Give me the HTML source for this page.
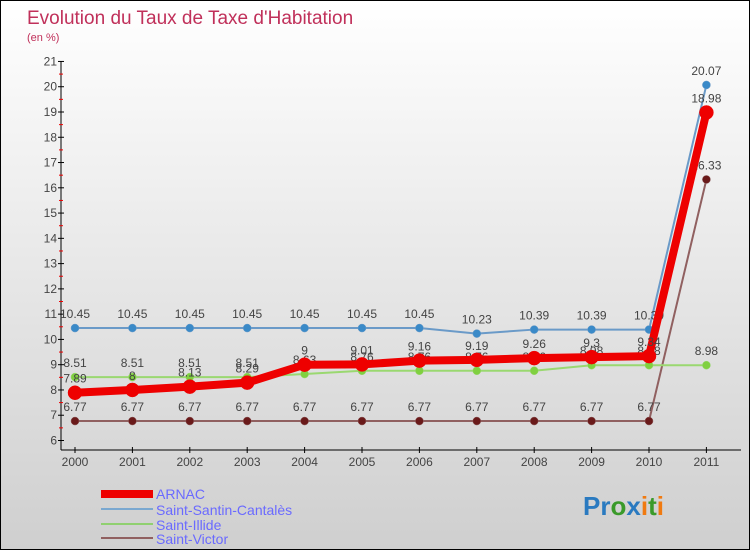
<!DOCTYPE html>
<html><head><meta charset="utf-8"><style>
body{margin:0}
#c{width:748px;height:548px;border:1px solid #000;background:linear-gradient(#fff,#cfcfcf);position:relative;font-family:"Liberation Sans",sans-serif;overflow:hidden}
</style></head><body>
<div id="c">
<svg id="s" width="748" height="548">
<text x="26" y="23" font-size="19" fill="#c0305a">Evolution du Taux de Taxe d'Habitation</text>
<text x="26" y="40" font-size="11" fill="#c0305a">(en %)</text>
<g id="axes"></g><g id="series"></g>
<g>
<rect x="100" y="489" width="52" height="8" fill="#e00"/>
<text x="155" y="498" font-size="14" fill="#6a6aff">ARNAC</text>
<rect x="100" y="507" width="52" height="2" fill="#7aa8d0"/>
<text x="155" y="514" font-size="14" fill="#6a6aff">Saint-Santin-Cantalès</text>
<rect x="100" y="522" width="52" height="2" fill="#90d070"/>
<text x="155" y="529" font-size="14" fill="#6a6aff">Saint-Illide</text>
<rect x="100" y="536" width="52" height="2" fill="#906060"/>
<text x="155" y="543" font-size="14" fill="#6a6aff">Saint-Victor</text>
</g>
<g font-size="26" font-weight="bold">
<text x="582" y="514"><tspan fill="#2a7ac0">Pr</tspan><tspan fill="#3a9a2a">o</tspan><tspan fill="#2a7ac0">x</tspan><tspan fill="#f07a10">i</tspan><tspan fill="#3a9a2a">t</tspan><tspan fill="#f07a10">i</tspan></text>
</g>
</svg></div>
<script>
const years=["2000","2001","2002","2003","2004","2005","2006","2007","2008","2009","2010","2011"];
const yTicks=[6,7,8,9,10,11,12,13,14,15,16,17,18,19,20,21];
const arnac=[7.89,8,8.13,8.29,9,9.01,9.16,9.19,9.26,9.3,9.34,18.98];
const santin=[10.45,10.45,10.45,10.45,10.45,10.45,10.45,10.23,10.39,10.39,10.39,20.07];
const illide=[8.51,8.51,8.51,8.51,8.63,8.76,8.76,8.76,8.76,8.98,8.98,8.98];
const victor=[6.77,6.77,6.77,6.77,6.77,6.77,6.77,6.77,6.77,6.77,6.77,16.33];
const NS="http://www.w3.org/2000/svg";
const X=i=>74+i*57.4;
const Y=v=>439.5-(v-6)*25.27;
function mk(t,a,p){const e=document.createElementNS(NS,t);for(const k in a)e.setAttribute(k,a[k]);p.appendChild(e);return e;}
const ax=document.getElementById('axes');
const yl=mk('line',{x1:60,y1:Y(21),x2:60,y2:449,stroke:'#000','stroke-width':1},ax);


const xl=mk('line',{x1:60,y1:449,x2:740,y2:449,stroke:'#000','stroke-width':1},ax);


yTicks.forEach(v=>{
 mk('line',{x1:57,y1:Y(v),x2:63,y2:Y(v),stroke:'#000'},ax);
 if(v<21)mk('line',{x1:58,y1:Y(v+0.5),x2:62,y2:Y(v+0.5),stroke:'#e00'},ax);
 const t=mk('text',{x:56,y:Y(v)+4,'font-size':12,'text-anchor':'end',fill:'#444'},ax);t.textContent=v;
 
 
});
years.forEach((y,i)=>{
 mk('line',{x1:X(i),y1:446,x2:X(i),y2:452,stroke:'#000'},ax);
 const t=mk('text',{x:X(i),y:465,'font-size':12,'text-anchor':'middle',fill:'#444'},ax);t.textContent=y;
 
 
});
const sg=document.getElementById('series');
function draw(name,data,col,dot,w,r){
 const g=mk('g',{},sg);
 
 
 const p=mk('polyline',{points:data.map((v,i)=>X(i)+','+Y(v)).join(' '),fill:'none',stroke:col,'stroke-width':w},g);
 
 
 data.forEach((v,i)=>{
  const c=mk('circle',{cx:X(i),cy:Y(v),r:r,fill:dot,stroke:col,'stroke-width':0.5},g);
  
  
  const t=mk('text',{x:X(i),y:Y(v)-10,'font-size':12,'text-anchor':'middle',fill:'#444'},g);t.textContent=v;
  
  
 });
}
draw('saint-victor',victor,'#906060','#6a1a1a',2,4);
draw('saint-illide',illide,'#9ad870','#80d040',2,4);
draw('saint-santin',santin,'#6a9ac8','#3a8ac8',2,4);
draw('arnac',arnac,'#ee0000','#ee0000',8,7);
</script>
</body></html>
